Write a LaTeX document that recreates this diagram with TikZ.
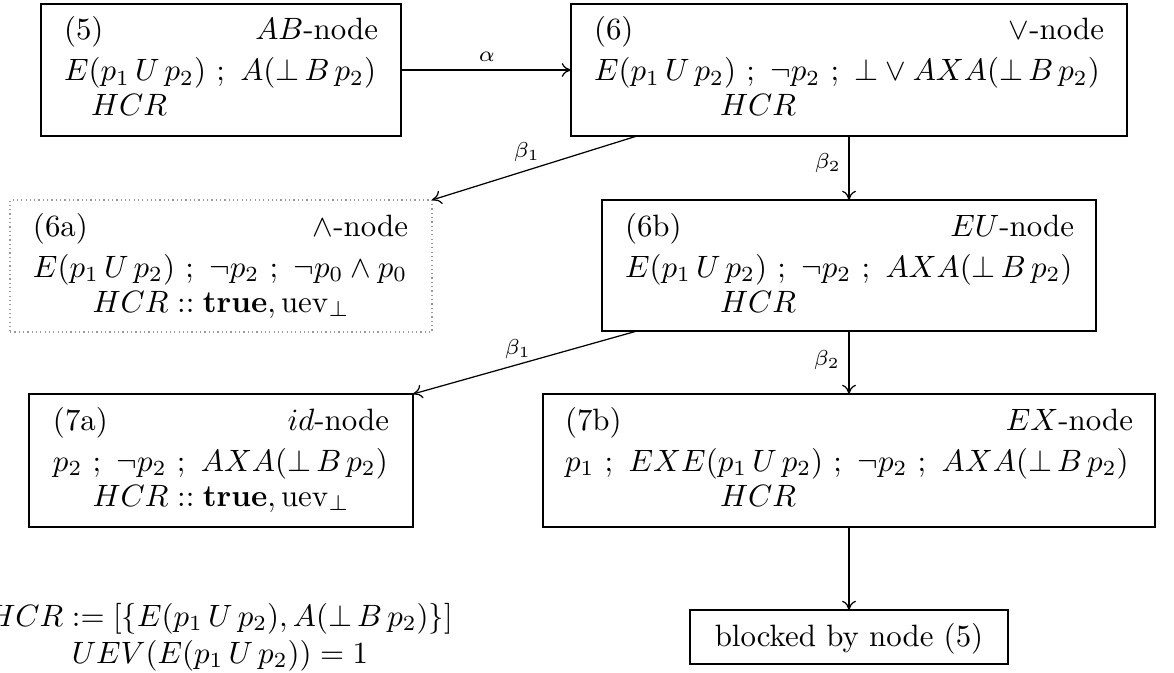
\documentclass[tikz,border=0pt]{standalone}
\usetikzlibrary{arrows.meta,fit}
\begin{document}
\begin{tikzpicture}[x=0.324pt,y=-0.324pt,
  box/.style={draw,line width=0.4pt,inner sep=0pt,outer sep=0pt},
  dotbox/.style={draw=gray!80,densely dotted,line width=0.4pt,inner sep=0pt,outer sep=0pt},
  txt/.style={inner sep=0pt,outer sep=0pt,anchor=base west},
  rtxt/.style={inner sep=0pt,outer sep=0pt,anchor=base east},
  ctxt/.style={inner sep=0pt,outer sep=0pt,anchor=base},
  lab/.style={inner sep=0pt,font=\scriptsize},
  arr/.style={-{To[length=3pt,width=4.5pt]},line width=0.4pt}]
\useasboundingbox (0,0) rectangle (1174,673);

% boxes
\node[box,fit={(41,4) (401,136)}] (n5) {};
\node[box,fit={(571,4) (1127,136)}] (n6) {};
\node[dotbox,fit={(10,200) (432,332)}] (n6a) {};
\node[box,fit={(602,200) (1096,331)}] (n6b) {};
\node[box,fit={(29,394) (413,527)}] (n7a) {};
\node[box,fit={(543,394) (1155,527)}] (n7b) {};
\node[box,fit={(690,610) (1008,664)}] (nbl) {};
\node[inner sep=0pt] (tbl) at (849,639) {blocked by node (5)};

% box 5
\node[txt] (t5a) at (64,40) {(5)};
\node[rtxt] (t5b) at (378,40) {$AB$-node};
\node[txt] (t5c) at (64,81) {$E(p_1\,U\,p_2)\ ;\ A(\bot\,B\,p_2)$};
\node[txt] (t5d) at (91,116) {$HCR$};

% box 6
\node[txt] (t6a) at (594,40) {(6)};
\node[rtxt] (t6b) at (1104,40) {$\vee$-node};
\node[txt] (t6c) at (594,81) {$E(p_1\,U\,p_2)\ ;\ \neg p_2\ ;\ \bot\vee AXA(\bot\,B\,p_2)$};
\node[txt] (t6d) at (720,116) {$HCR$};

% box 6a
\node[txt] (t6aa) at (33,236) {(6a)};
\node[rtxt] (t6ab) at (408,236) {$\wedge$-node};
\node[txt] (t6ac) at (33,277) {$E(p_1\,U\,p_2)\ ;\ \neg p_2\ ;\ \neg p_0\wedge p_0$};
\node[ctxt] (t6ad) at (221,312) {$HCR::\mathbf{true},\mathrm{uev}_\bot$};

% box 6b
\node[txt] (t6ba) at (625,236) {(6b)};
\node[rtxt] (t6bb) at (1074,236) {$EU$-node};
\node[txt] (t6bc) at (625,277) {$E(p_1\,U\,p_2)\ ;\ \neg p_2\ ;\ AXA(\bot\,B\,p_2)$};
\node[txt] (t6bd) at (720,312) {$HCR$};

% box 7a
\node[txt] (t7aa) at (53,430) {(7a)};
\node[rtxt] (t7ab) at (389,430) {$id$-node};
\node[txt] (t7ac) at (53,471) {$p_2\ ;\ \neg p_2\ ;\ AXA(\bot\,B\,p_2)$};
\node[ctxt] (t7ad) at (221,506) {$HCR::\mathbf{true},\mathrm{uev}_\bot$};

% box 7b
\node[txt] (t7ba) at (565,430) {(7b)};
\node[rtxt] (t7bb) at (1133,430) {$EX$-node};
\node[txt] (t7bc) at (565,471) {$p_1\ ;\ EXE(p_1\,U\,p_2)\ ;\ \neg p_2\ ;\ AXA(\bot\,B\,p_2)$};
\node[txt] (t7bd) at (720,506) {$HCR$};

% bottom-left text
\node[ctxt] (h1) at (220,626) {$HCR := [\{E(p_1\,U\,p_2), A(\bot\,B\,p_2)\}]$};
\node[ctxt] (h2) at (220,663) {$UEV(E(p_1\,U\,p_2)) = 1$};

% connectors
\draw[arr] (n5.east) -- (n6.west);
\node[lab] (la) at (487,57) {$\alpha$};
\draw[arr] ([xshift=66*0.324pt]n6.south west) -- (n6a.north east);
\node[lab] (lb1) at (527,152) {$\beta_1$};
\draw[arr] (n6.south) -- (n6b.north);
\node[lab] (lb2) at (828,163) {$\beta_2$};
\draw[arr] ([xshift=35*0.324pt]n6b.south west) -- (n7a.north east);
\node[lab] (lb3) at (518,349) {$\beta_1$};
\draw[arr] (n6b.south) -- (n7b.north);
\node[lab] (lb4) at (827,360) {$\beta_2$};
\draw[arr] (n7b.south) -- (nbl.north);
\end{tikzpicture}
\end{document}
